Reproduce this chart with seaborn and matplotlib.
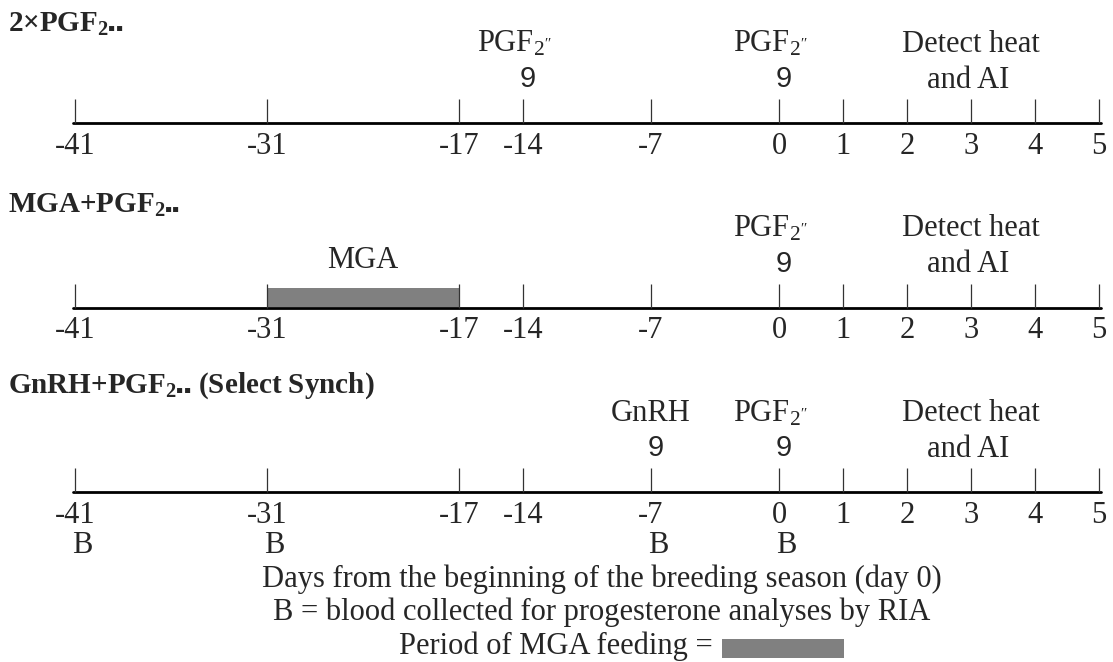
import numpy as np
import pandas as pd
import matplotlib
matplotlib.use("Agg")
import matplotlib.pyplot as plt
import seaborn as sns

# timeline data
tick_days = [-41, -31, -17, -14, -7, 0, 1, 2, 3, 4, 5]
row_titles = [r"2×PGF$_{\mathbf{2▪▪}}$",
              r"MGA+PGF$_{\mathbf{2▪▪}}$",
              r"GnRH+PGF$_{\mathbf{2▪▪}}$ (Select Synch)"]
pgf_days = [[-14, 0], [0], [0]]
gnrh_days = [[], [], [-7]]
mga_period = [[], [-31, -17], []]
blood_days = [[], [], [-41, -31, -7, 0]]
heat_days = [1, 5]
footer = ["Days from the beginning of the breeding season (day 0)",
          "B = blood collected for progesterone analyses by RIA",
          "Period of MGA feeding ="]

# schematic (non-linear) spacing of the day ticks
slots = [0, 3, 6, 7, 9, 11, 12, 13, 14, 15, 16]


def pos(day):
    return np.interp(day, tick_days, slots)


sns.set_theme(style="white")
plt.rcParams["font.family"] = ["Liberation Serif", "DejaVu Serif"]
plt.rcParams["mathtext.fontset"] = "custom"
plt.rcParams["mathtext.rm"] = "Liberation Serif"
plt.rcParams["mathtext.bf"] = "Liberation Serif:bold"
plt.rcParams["mathtext.it"] = "Liberation Serif:italic"

fig = plt.figure(figsize=(11.13, 6.62), dpi=100)
ax = fig.add_axes([0, 0, 1, 1])
ax.set_xlim(-75 / 64, (1113 - 75) / 64)
ax.set_ylim(662, 0)
ax.axis("off")

fs = 22
pgf_label = r"PGF$_{2^{\prime\prime}}$"
px = 1 / 64  # one pixel in x data units
arrow_kw = dict(fontsize=21, family="Liberation Sans", ha="center", va="baseline")

for i, title in enumerate(row_titles):
    y0 = 123 + 184.5 * i
    ax.text(pos(-41) - 67 * px, 32 + 180.5 * i, title, fontsize=21, fontweight="bold",
            ha="left", va="baseline")

    line = pd.DataFrame({"x": [pos(tick_days[0]) - 2 * px, pos(tick_days[-1]) + 2 * px],
                         "y": [y0, y0]})
    sns.lineplot(data=line, x="x", y="y", color="black", lw=2, ax=ax)
    ax.vlines(pos(np.array(tick_days)), y0 - 24, y0, color="#333333", lw=0.9)
    for d in tick_days:
        ax.text(pos(d), y0 + 31, str(d), fontsize=fs, ha="center", va="baseline")

    for d in pgf_days[i]:
        ax.text(pos(d) - 9 * px, y0 - 71, pgf_label, fontsize=fs, ha="center", va="baseline")
        ax.text(pos(d) + 5 * px, y0 - 36, "9", **arrow_kw)
    for d in gnrh_days[i]:
        ax.text(pos(d), y0 - 71, "GnRH", fontsize=fs, ha="center", va="baseline")
        ax.text(pos(d) + 5 * px, y0 - 36, "9", **arrow_kw)

    hx = (pos(heat_days[0]) + pos(heat_days[1])) / 2
    ax.text(hx, y0 - 71, "Detect heat", fontsize=fs, ha="center", va="baseline")
    ax.text(hx - 3 * px, y0 - 35, "and AI", fontsize=fs, ha="center", va="baseline")

    if mga_period[i]:
        a, b = pos(mga_period[i][0]), pos(mga_period[i][1])
        ax.fill_between([a, b], y0 - 20, y0 - 1, color="#808080", lw=0)
        ax.text((a + b) / 2, y0 - 39, "MGA", fontsize=fs, ha="center", va="baseline")

    for d in blood_days[i]:
        ax.text(pos(d) + 7 * px, y0 + 61, "B", fontsize=fs, ha="center", va="baseline")

cx = pos(0) - 177 * px
ax.text(cx, 587, footer[0], fontsize=fs, ha="center", va="baseline")
ax.text(cx, 620, footer[1], fontsize=fs, ha="center", va="baseline")
ax.text(pos(0) - 66 * px, 654, footer[2], fontsize=fs, ha="right", va="baseline")
ax.fill_between([pos(0) - 57 * px, pos(0) + 65 * px], 639, 658, color="#808080", lw=0)

fig.savefig("out.png", dpi=100)
